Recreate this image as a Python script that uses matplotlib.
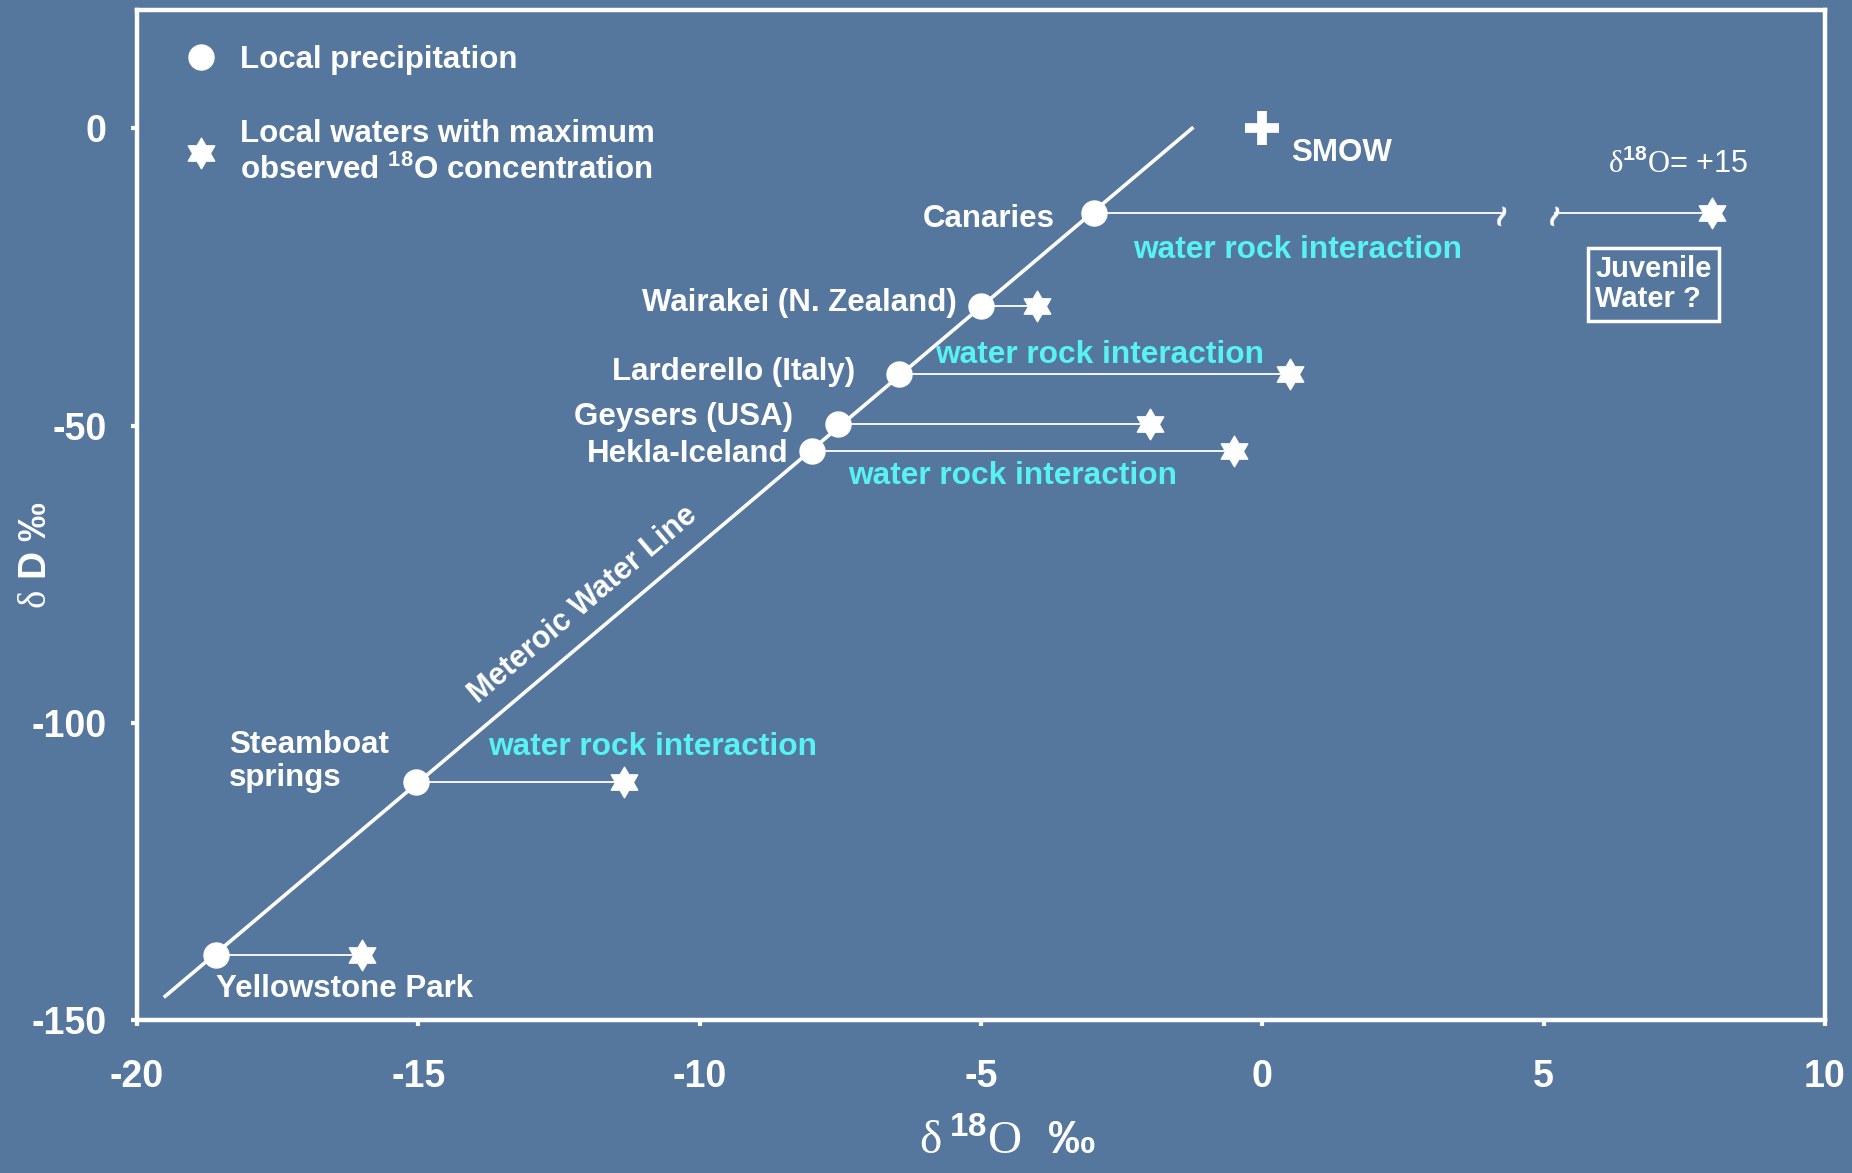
import matplotlib
matplotlib.use("Agg")
import matplotlib.pyplot as plt
from matplotlib.lines import Line2D
from matplotlib.path import Path

plt.rcParams["font.family"] = ["Liberation Sans", "DejaVu Sans"]
plt.rcParams["axes.unicode_minus"] = False
plt.rcParams["mathtext.fontset"] = "custom"
plt.rcParams["mathtext.rm"] = "Liberation Serif:weight=normal:style=normal"
plt.rcParams["mathtext.bf"] = "Liberation Sans:bold"

# geothermal sites: local precipitation on the MWL and the most 18O-shifted water
sites = ["Yellowstone Park", "Steamboat\nsprings", "Hekla-Iceland", "Geysers (USA)",
         "Larderello (Italy)", "Wairakei (N. Zealand)", "Canaries"]
precip_d18o = [-18.6, -15.05, -8.0, -7.55, -6.45, -5.0, -3.0]
precip_dD = [-139, -110, -54.3, -49.7, -41.3, -29.8, -14.3]
shifted_d18o = [-16.0, -11.35, -0.5, -2.0, 0.5, -4.0, 8.0]

# meteoric water line end points
mwl_d18o = [-19.5, -1.25]
mwl_dD = [-146, 0]

smow = (0, 0)
juvenile_label = "+15"
axis_break = (4.25, 5.2)

bg = "#55779e"
cyan = "#58f2f2"
star6 = Path.unit_regular_star(6, 0.58)

fig = plt.figure(figsize=(18.52, 11.73), dpi=100, facecolor=bg)
ax = fig.add_axes([0.074, 0.1304, 0.9114, 0.8615])
ax.set_facecolor("none")
ax.set_xlim(-20, 10)
ax.set_ylim(-150, 20)
ax.set_xticks([-20, -15, -10, -5, 0, 5, 10])
ax.set_yticks([-150, -100, -50, 0])
for s in ax.spines.values():
    s.set_color("white")
    s.set_linewidth(3.2)
ax.tick_params(colors="white", direction="out", length=4, width=3,
               labelsize=27)
ax.tick_params(axis="x", pad=24)
ax.tick_params(axis="y", pad=18)
for lab in ax.get_xticklabels() + ax.get_yticklabels():
    lab.set_fontweight("bold")

ax.plot(mwl_d18o, mwl_dD, color="white", lw=2.6, zorder=2)

# horizontal shifts (water rock interaction), Canaries line is broken
for i in range(len(sites)):
    if sites[i] == "Canaries":
        ax.plot([precip_d18o[i], axis_break[0]], [precip_dD[i]] * 2, color="white", lw=1.3)
        ax.plot([axis_break[1], shifted_d18o[i]], [precip_dD[i]] * 2, color="white", lw=1.3)
        for xb in axis_break:
            ax.text(xb, precip_dD[i], "~", family="DejaVu Sans", fontsize=22,
                    fontweight="bold", color="white", ha="center", va="center",
                    rotation=70)
    else:
        ax.plot([precip_d18o[i], shifted_d18o[i]], [precip_dD[i]] * 2, color="white", lw=1.3)

ax.plot(precip_d18o, precip_dD, "o", color="white", ms=18, ls="none", zorder=3)
ax.plot(shifted_d18o, precip_dD, marker=star6, color="white", ms=22, ls="none", zorder=3)
ax.plot(*smow, marker="+", color="white", ms=24, mew=7, ls="none")
ax.text(0.51, -4.2, "SMOW", color="white", fontsize=22.5, fontweight="bold",
        ha="left", va="center")

label_pos = [(-18.6, -144.8, "left"), (-18.36, -106.5, "left"), (-8.43, -54.7, "right"),
             (-8.35, -48.5, "right"), (-7.23, -41, "right"), (-5.43, -29.3, "right"),
             (-3.69, -15.3, "right")]
for name, (x, y, ha) in zip(sites, label_pos):
    ax.text(x, y, name, color="white", fontsize=22.5, fontweight="bold",
            ha=ha, va="center", linespacing=1.1)

for x, y in [(-2.3, -20.4), (-5.81, -38.2), (-7.36, -58.5), (-13.76, -104)]:
    ax.text(x, y, "water rock interaction", color=cyan, fontsize=22.8,
            fontweight="bold", ha="left", va="center")

ax.text(-12.08, -80.2, "Meteroic Water Line", color="white", fontsize=22,
        fontweight="bold", ha="center", va="center", rotation=82.875,
        rotation_mode="anchor", transform_rotates_text=True)

ax.text(7.38, -6, r"$\mathrm{\delta}^{\mathbf{18}}\mathrm{O}$= " + juvenile_label,
        color="white", fontsize=22, ha="center", va="center")
ax.text(6.95, -26.2, "Juvenile\nWater ?", color="white", fontsize=21,
        fontweight="bold", ha="center", va="center", multialignment="left",
        linespacing=1.1,
        bbox=dict(boxstyle="square,pad=0.25", fc="none", ec="white", lw=2.5))

handles = [Line2D([], [], marker="o", color="white", ms=18, ls="none"),
           Line2D([], [], marker=star6, color="white", ms=22, ls="none")]
leg = ax.legend(handles, ["Local precipitation",
                          "Local waters with maximum\nobserved $^{\\mathbf{18}}$O concentration"],
                loc="upper left", bbox_to_anchor=(0.0, 1.013), frameon=False,
                prop={"size": 22.5, "weight": "bold"}, labelcolor="white",
                handlelength=1.0, handletextpad=0.75, labelspacing=1.4,
                borderaxespad=1.15)
for t in leg.get_texts():
    t.set_linespacing(1.25)

ax.set_xlabel(r"$\mathrm{\delta}\,^{\mathbf{18}}\mathrm{O}$  ‰", color="white",
              fontsize=34, fontweight="bold")
ax.xaxis.set_label_coords(0.516, -0.098)
ax.set_ylabel(r"$\mathrm{\delta}$ D ‰", color="white", fontsize=28,
              fontweight="bold")
ax.yaxis.set_label_coords(-0.049, 0.46)

fig.savefig("out.png", dpi=100, facecolor=bg)
